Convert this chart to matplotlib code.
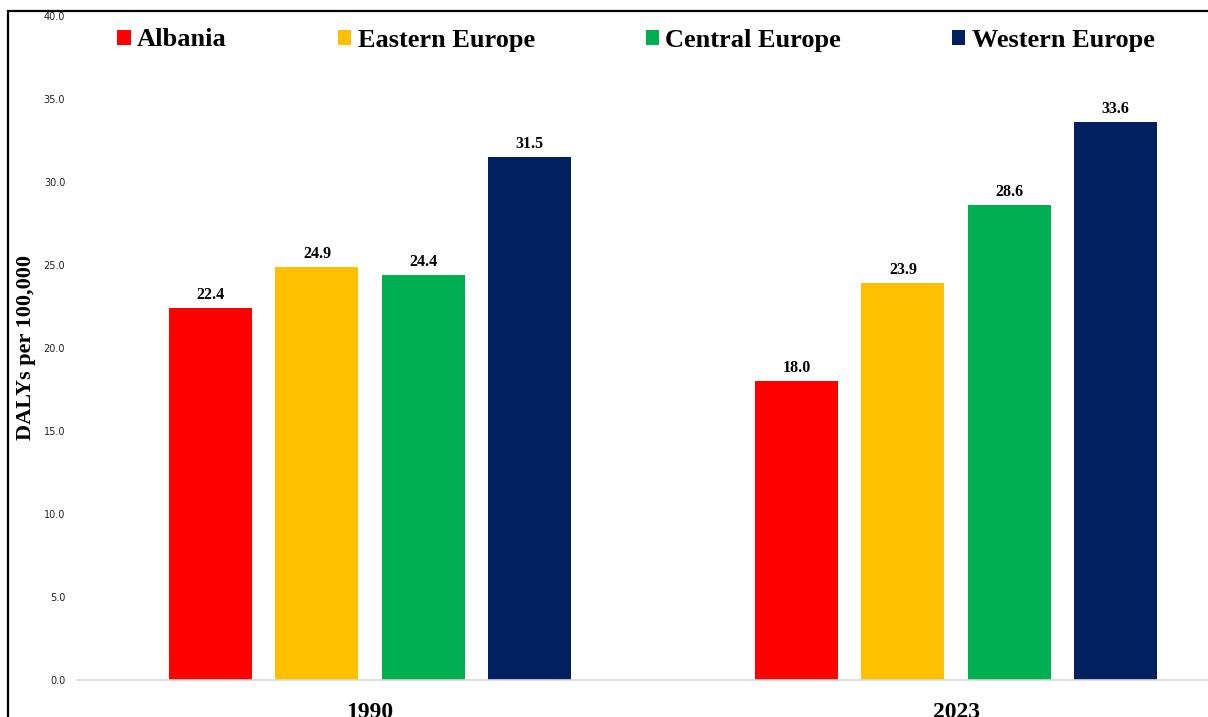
import matplotlib.pyplot as plt
from matplotlib.patches import Patch, Rectangle

years = ['1990', '2023']
regions = ['Albania', 'Eastern Europe', 'Central Europe', 'Western Europe']
colors = ['#FF0000', '#FFC000', '#00B050', '#002060']
values = [
    [22.4, 18.0],
    [24.9, 23.9],
    [24.4, 28.6],
    [31.5, 33.6],
]
yticks = [0, 5, 10, 15, 20, 25, 30, 35, 40]

serif = ['Liberation Serif', 'DejaVu Serif']

fig = plt.figure(figsize=(12.08, 7.17), dpi=100)
ax = fig.add_axes([77 / 1208, 1 - 680 / 717, 1172 / 1208, (680 - 16) / 717])

step = 0.181
width = 0.1416
for i, reg in enumerate(regions):
    xs = [k + (i - 1.5) * step for k in range(len(years))]
    bars = ax.bar(xs, values[i], width=width, color=colors[i], label=reg, zorder=2)
    for b, v in zip(bars, values[i]):
        ax.text(b.get_x() + b.get_width() / 2, v + 0.3, f'{v:.1f}', ha='center', va='bottom',
                fontsize=11.5, fontweight='bold', family=serif)

ax.set_xlim(-0.5, 1.5)
ax.set_ylim(0, 40)
ax.set_yticks(yticks)
ax.set_yticklabels([f'{t:.1f}' for t in yticks], fontsize=7, color='#222222')
ax.set_xticks(range(len(years)))
ax.set_xticklabels(years, fontsize=17, fontweight='bold', family=serif)
ax.tick_params(axis='x', length=0, pad=16)
ax.tick_params(axis='y', length=0, pad=8.5)
for s in ['top', 'right', 'left']:
    ax.spines[s].set_visible(False)
ax.spines['bottom'].set_color('#d9d9d9')
ax.spines['bottom'].set_linewidth(1.2)

ax.set_ylabel('DALYs per 100,000', fontsize=16, fontweight='bold', family=serif)
ax.yaxis.set_label_coords(-0.035, 0.5)

handles = [Patch(facecolor=c, label=r) for c, r in zip(colors, regions)]
fig.legend(handles=handles, ncol=4, loc='center', bbox_to_anchor=(636 / 1208, 1 - 40 / 717),
           frameon=False, prop={'family': serif, 'weight': 'bold', 'size': 19},
           handlelength=0.5, handleheight=0.5, handletextpad=0.25, columnspacing=4.2)

# outer frame line (left and top)
fig.patches.append(Rectangle((8 / 1208, -0.1), 1.2, 1 - 11 / 717 + 0.1, transform=fig.transFigure,
                             fill=False, edgecolor='black', linewidth=1.6))

fig.savefig('out.png', dpi=100)
